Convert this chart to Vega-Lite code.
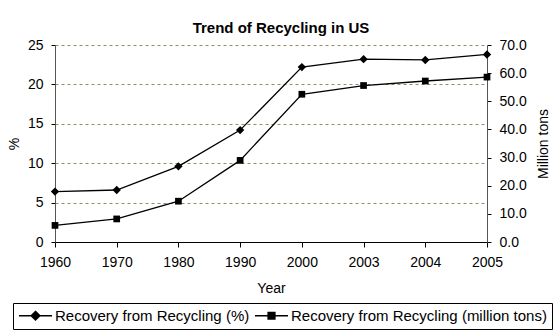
{
  "$schema": "https://vega.github.io/schema/vega-lite/v6.json",
  "width": 432,
  "height": 197,
  "autosize": {"type": "none"},
  "padding": {"left": 55, "top": 45, "right": 66, "bottom": 90},
  "background": "white",
  "config": {"font": "Liberation Sans", "view": {"stroke": null}},
  "title": {"text": "Trend of Recycling in US", "fontSize": 15, "fontWeight": "bold", "font": "Liberation Sans", "color": "black", "offset": 2, "dx": 10, "anchor": "middle"},
  "data": {"values": [
    {"year": "1960", "series": "Recovery from Recycling (%)", "value": 6.4},
    {"year": "1970", "series": "Recovery from Recycling (%)", "value": 6.6},
    {"year": "1980", "series": "Recovery from Recycling (%)", "value": 9.6},
    {"year": "1990", "series": "Recovery from Recycling (%)", "value": 14.2},
    {"year": "2000", "series": "Recovery from Recycling (%)", "value": 22.2},
    {"year": "2003", "series": "Recovery from Recycling (%)", "value": 23.2},
    {"year": "2004", "series": "Recovery from Recycling (%)", "value": 23.1},
    {"year": "2005", "series": "Recovery from Recycling (%)", "value": 23.8},
    {"year": "1960", "series": "Recovery from Recycling (million tons)", "value": 5.9},
    {"year": "1970", "series": "Recovery from Recycling (million tons)", "value": 8.2},
    {"year": "1980", "series": "Recovery from Recycling (million tons)", "value": 14.5},
    {"year": "1990", "series": "Recovery from Recycling (million tons)", "value": 29.0},
    {"year": "2000", "series": "Recovery from Recycling (million tons)", "value": 52.5},
    {"year": "2003", "series": "Recovery from Recycling (million tons)", "value": 55.6},
    {"year": "2004", "series": "Recovery from Recycling (million tons)", "value": 57.2},
    {"year": "2005", "series": "Recovery from Recycling (million tons)", "value": 58.6}
  ]},
  "encoding": {
    "x": {"field": "year", "type": "ordinal", "scale": {"type": "point", "padding": 0},
      "axis": {"title": "Year", "labelAngle": 0, "tickSize": 5, "labelPadding": 8, "labelFontSize": 14, "titleFontSize": 14, "titleFontWeight": "normal", "titlePadding": 12, "domainColor": "black", "tickColor": "black", "labelColor": "black", "titleColor": "black", "grid": false}}
  },
  "layer": [
    {
      "transform": [{"filter": "datum.series == 'Recovery from Recycling (%)'"}],
      "encoding": {"y": {"field": "value", "type": "quantitative", "scale": {"domain": [0, 25]},
        "axis": {"title": "%", "orient": "left", "values": [0, 5, 10, 15, 20, 25], "tickSize": 4, "labelPadding": 8, "labelFontSize": 14, "titleFontSize": 14, "titleFontWeight": "normal", "titlePadding": 6, "grid": true, "gridDash": [3, 3], "gridColor": "#8f8f5f", "gridOpacity": 1, "domainColor": "#555555", "tickColor": "black", "labelColor": "black", "titleColor": "black"}}},
      "layer": [
        {"mark": {"type": "line", "color": "black", "strokeWidth": 1.3}},
        {"mark": {"type": "point", "shape": "diamond", "filled": true, "color": "black", "size": 70, "opacity": 1}},
        {"mark": {"type": "point", "filled": false, "color": "black", "strokeWidth": 1.3, "opacity": 0},
          "encoding": {"shape": {"field": "series", "type": "nominal",
            "scale": {"domain": ["Recovery from Recycling (%)", "Recovery from Recycling (million tons)"], "range": [
              "M-1,0H1M0,-0.27L0.27,0L0,0.27L-0.27,0ZM0,-0.19L0.19,0L0,0.19L-0.19,0ZM0,-0.11L0.11,0L0,0.11L-0.11,0ZM0,-0.04L0.04,0L0,0.04L-0.04,0Z",
              "M-1,0H1M-0.21,-0.21H0.21V0.21H-0.21ZM-0.14,-0.14H0.14V0.14H-0.14ZM-0.07,-0.07H0.07V0.07H-0.07Z"]},
            "legend": {"orient": "none", "legendX": -42, "legendY": 258, "direction": "horizontal", "title": null, "strokeColor": "black", "padding": 5, "labelFontSize": 15, "labelLimit": 400, "labelOffset": 2, "columnPadding": 4, "symbolSize": 1089, "clipHeight": 15, "symbolStrokeWidth": 1.3, "symbolOpacity": 1, "labelColor": "black"}}}}
      ]
    },
    {
      "transform": [{"filter": "datum.series == 'Recovery from Recycling (million tons)'"}],
      "encoding": {"y": {"field": "value", "type": "quantitative", "scale": {"domain": [0, 70]},
        "axis": {"title": "Million tons", "orient": "right", "values": [0, 10, 20, 30, 40, 50, 60, 70], "format": ".1f", "tickSize": 4, "labelPadding": 8, "labelFontSize": 14, "titleFontSize": 14, "titleFontWeight": "normal", "titleAngle": 270, "titleBaseline": "top", "titlePadding": 10, "grid": false, "domainColor": "#555555", "tickColor": "black", "labelColor": "black", "titleColor": "black"}}},
      "layer": [
        {"mark": {"type": "line", "color": "black", "strokeWidth": 1.3}},
        {"mark": {"type": "point", "shape": "square", "filled": true, "color": "black", "size": 45, "opacity": 1}},
        {"mark": {"type": "point", "filled": false, "color": "black", "strokeWidth": 1.3, "opacity": 0},
          "encoding": {"shape": {"field": "series", "type": "nominal"}}}
      ]
    }
  ],
  "resolve": {"scale": {"y": "independent"}}
}
